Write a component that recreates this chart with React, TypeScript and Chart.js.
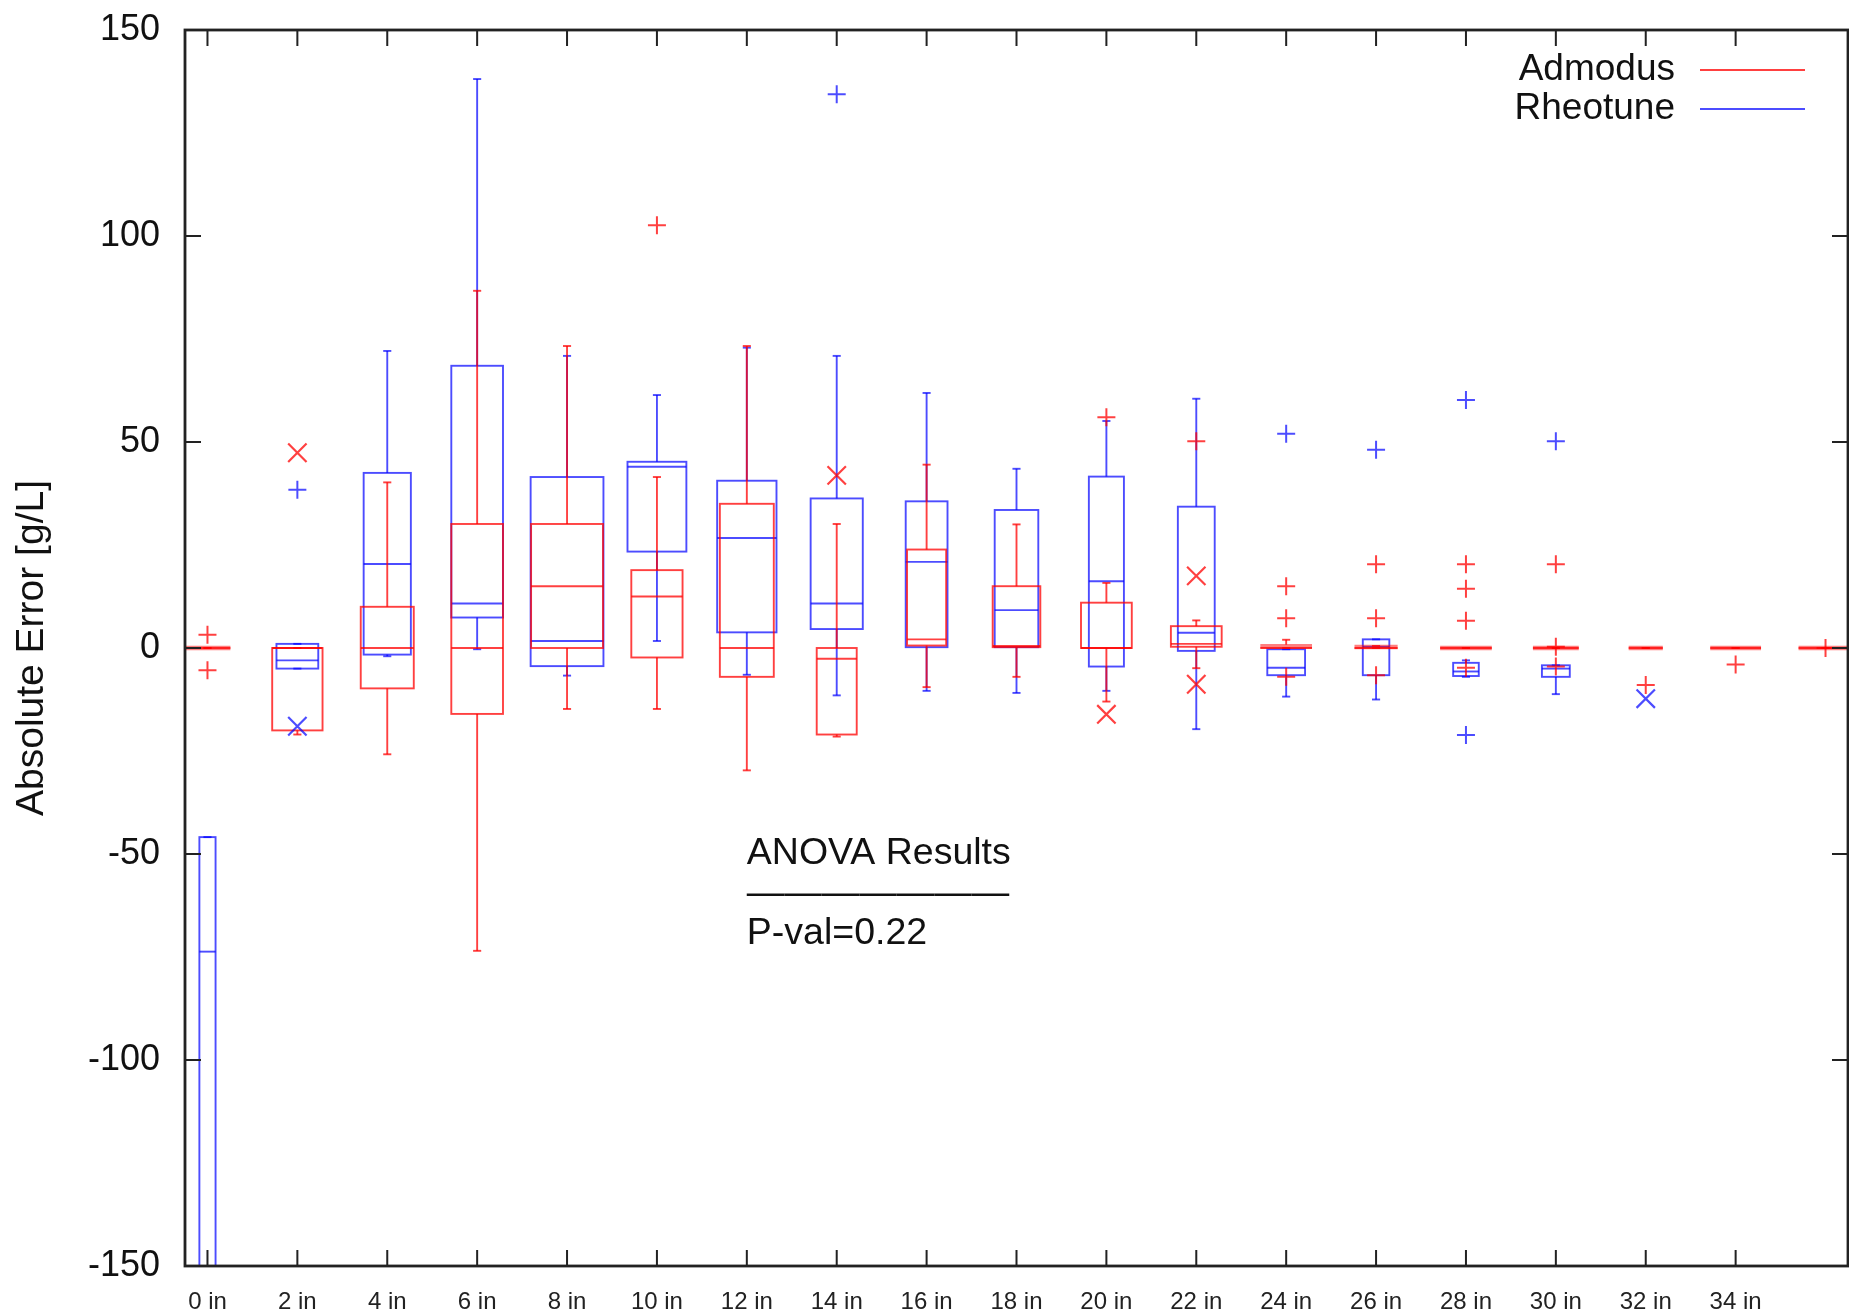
import React, { useEffect, useRef } from 'react';
import { Chart, registerables } from 'chart.js';

Chart.register(...registerables);

// ---------- data ----------
const categories = [0, 2, 4, 6, 8, 10, 12, 14, 16, 18, 20, 22, 24, 26, 28, 30, 32, 34, 36];
const tickValues = [0, 2, 4, 6, 8, 10, 12, 14, 16, 18, 20, 22, 24, 26, 28, 30, 32, 34];
const xTickLabels = ['0 in', '2 in', '4 in', '6 in', '8 in', '10 in', '12 in', '14 in', '16 in', '18 in', '20 in', '22 in', '24 in', '26 in', '28 in', '30 in', '32 in', '34 in'];
const yTickValues = [-150, -100, -50, 0, 50, 100, 150];

const seriesNames = ['Admodus', 'Rheotune'];

// Admodus (red)
const admodusMin = [0, -21, -25.8, -73.5, -14.8, -14.8, -29.7, -21.5, -9.5, -7.0, -13, -4.9, 0, 0, 0, 0, 0, 0, 0];
const admodusQ1 = [0, -20, -9.8, -16, 0, -2.3, -7.0, -21.0, 0.6, 0.2, 0, 0.3, 0, 0, 0, 0, 0, 0, 0];
const admodusMed = [0, 0, 0, 0, 15.0, 12.5, 0, -2.6, 2.1, 0.5, 0, 1.0, 0, 0, 0, 0, 0, 0, 0];
const admodusQ3 = [0, 0, 10.0, 30.1, 30.1, 18.9, 35.0, 0, 23.9, 15.0, 11.0, 5.3, 0.8, 0.5, 0, 0, 0, 0, 0];
const admodusMax = [0, 0, 40.2, 86.7, 73.3, 41.5, 73.3, 30.1, 44.5, 30.0, 15.8, 6.7, 2.0, 0.5, 0, 0, 0, 0, 0];
// relative box widths (x-axis units, varwidth)
const admodusWidth = [1.02, 1.12, 1.18, 1.15, 1.6, 1.14, 1.2, 0.89, 0.87, 1.06, 1.13, 1.13, 1.15, 0.96, 1.15, 1.02, 0.76, 1.13, 1.2];
const admodusPlus: number[][] = [
  [3.2, -5.4], [], [], [], [], [102.6], [], [], [], [], [56.0], [50.2],
  [15.0, 7.2, -7.0], [20.3, 7.2, -6.6], [20.3, 14.4, 6.6, -4.8], [20.3, 0.3, -4.5], [-9.0], [-4.0], [0],
];
const admodusCross: number[][] = [
  [], [47.4], [], [], [], [], [], [41.9], [], [], [-16.1], [17.5, -8.8], [], [], [], [], [], [], [],
];

// Rheotune (blue)
const rheotuneMin = [-200, -5, -2, -0.3, -6.7, 1.7, -6.5, -11.5, -10.4, -10.9, -10.4, -19.7, -11.8, -12.5, -7.0, -11.2, null, null, null];
const rheotuneQ1 = [-170, -5, -1.6, 7.4, -4.4, 23.4, 3.8, 4.6, 0.2, 0.2, -4.5, -0.7, -6.6, -6.6, -6.8, -7.0, null, null, null];
const rheotuneMed = [-73.7, -3.0, 20.4, 10.8, 1.7, 44.0, 26.7, 10.8, 20.9, 9.2, 16.2, 3.7, -4.8, 0.3, -5.7, -5.0, null, null, null];
const rheotuneQ3 = [-45.9, 1.0, 42.5, 68.5, 41.5, 45.2, 40.6, 36.3, 35.6, 33.5, 41.6, 34.3, -0.3, 2.1, -3.6, -4.2, null, null, null];
const rheotuneMax = [-45.9, 1.0, 72.1, 138.1, 70.9, 61.4, 72.9, 70.9, 61.9, 43.5, 55.1, 60.5, -0.3, 2.1, -3.0, -4.2, null, null, null];
const rheotuneWidth = [0.36, 0.93, 1.05, 1.15, 1.62, 1.31, 1.32, 1.16, 0.93, 0.97, 0.78, 0.82, 0.84, 0.59, 0.57, 0.62, 0, 0, 0];
const rheotunePlus: number[][] = [
  [], [38.4], [], [], [], [], [], [134.4], [], [], [], [], [52.0], [48.1], [60.2, -21.1], [50.2], [], [], [],
];
const rheotuneCross: number[][] = [
  [], [-19.0], [], [], [], [], [], [], [], [], [], [], [], [], [], [], [-12.3], [], [],
];

const annotationLines = ['ANOVA Results', '———————', 'P-val=0.22'];
const annotationAt = { x: 12, y: -50 };

// ---------- styles ----------
const FONT = "'Liberation Sans', Arial, Helvetica, sans-serif";
const RED = 'rgba(255,0,0,0.75)';
const BLUE = 'rgba(0,0,255,0.7)';
const RED_FLAT = 'rgba(255,0,0,0.5)';
const BLUE_FLAT = 'rgba(0,0,255,0.45)';
const CAP_W = 0.18;

const series = [
  { name: seriesNames[0], color: RED, flat: RED_FLAT, min: admodusMin, q1: admodusQ1, med: admodusMed, q3: admodusQ3, max: admodusMax, width: admodusWidth, plus: admodusPlus, cross: admodusCross },
  { name: seriesNames[1], color: BLUE, flat: BLUE_FLAT, min: rheotuneMin, q1: rheotuneQ1, med: rheotuneMed, q3: rheotuneQ3, max: rheotuneMax, width: rheotuneWidth, plus: rheotunePlus, cross: rheotuneCross },
];

const toPoints = (arr: number[][]) =>
  arr.flatMap((vals, i) => vals.map((v) => ({ x: categories[i], y: v })));

const boxPlugin = {
  id: 'boxes',
  beforeDatasetsDraw(chart: any) {
    const { ctx, chartArea, scales } = chart;
    const x = scales.x;
    const y = scales.y;
    ctx.save();
    ctx.beginPath();
    ctx.rect(chartArea.left, chartArea.top, chartArea.right - chartArea.left, chartArea.bottom - chartArea.top);
    ctx.clip();
    const line = (x1: number, y1: number, x2: number, y2: number) => {
      ctx.beginPath();
      ctx.moveTo(x1, y1);
      ctx.lineTo(x2, y2);
      ctx.stroke();
    };
    [series[1], series[0]].forEach((s) => {
      categories.forEach((c, i) => {
        const q1 = s.q1[i];
        if (q1 === null || q1 === undefined) return;
        const mn = s.min[i] as number;
        const md = s.med[i] as number;
        const q3 = s.q3[i] as number;
        const mx = s.max[i] as number;
        const w = s.width[i];
        const xc = x.getPixelForValue(c);
        const xl = x.getPixelForValue(c - w / 2);
        const xr = x.getPixelForValue(c + w / 2);
        const cl = x.getPixelForValue(c - CAP_W / 2);
        const cr = x.getPixelForValue(c + CAP_W / 2);
        const yq1 = y.getPixelForValue(q1);
        const yq3 = y.getPixelForValue(q3);
        const ymd = y.getPixelForValue(md);
        const ymn = y.getPixelForValue(mn);
        const ymx = y.getPixelForValue(mx);
        ctx.strokeStyle = s.color;
        ctx.lineWidth = 1.9;
        if (mx !== q3) { line(xc, yq3, xc, ymx); }
        line(cl, ymx, cr, ymx);
        if (mn !== q1) { line(xc, yq1, xc, ymn); }
        line(cl, ymn, cr, ymn);
        if (Math.abs(yq1 - yq3) < 4) {
          // collapsed box: heavier, lighter band like the original rendering
          ctx.strokeStyle = s.flat;
          ctx.lineWidth = 4.5;
          line(xl, (yq1 + yq3) / 2, xr, (yq1 + yq3) / 2);
          ctx.strokeStyle = s.color;
          ctx.lineWidth = 1.9;
          line(xl, ymd, xr, ymd);
        } else {
          ctx.strokeRect(xl, yq3, xr - xl, yq1 - yq3);
          line(xl, ymd, xr, ymd);
        }
      });
    });
    ctx.restore();
  },
  afterDatasetsDraw(chart: any) {
    const { ctx, chartArea, scales } = chart;
    const x = scales.x;
    const y = scales.y;
    const { left, right, top, bottom } = chartArea;
    ctx.save();
    ctx.strokeStyle = '#222';
    ctx.lineWidth = 2;
    const TL = 16;
    tickValues.forEach((v) => {
      const px = x.getPixelForValue(v);
      ctx.beginPath();
      ctx.moveTo(px, bottom); ctx.lineTo(px, bottom - TL);
      ctx.moveTo(px, top); ctx.lineTo(px, top + TL);
      ctx.stroke();
    });
    yTickValues.forEach((v) => {
      const py = y.getPixelForValue(v);
      ctx.beginPath();
      ctx.moveTo(left, py); ctx.lineTo(left + TL, py);
      ctx.moveTo(right, py); ctx.lineTo(right - TL, py);
      ctx.stroke();
    });
    ctx.lineWidth = 2.8;
    ctx.strokeRect(left, top, right - left, bottom - top);

    // annotation
    ctx.fillStyle = '#111';
    ctx.font = `37.5px ${FONT}`;
    ctx.textAlign = 'left';
    ctx.textBaseline = 'middle';
    const ax = x.getPixelForValue(annotationAt.x);
    const ay = y.getPixelForValue(annotationAt.y);
    annotationLines.forEach((t, k) => {
      ctx.fillText(t, ax, ay + k * 40);
    });

    // legend
    ctx.font = `37px ${FONT}`;
    ctx.textAlign = 'right';
    series.forEach((s, k) => {
      const ly = top + 40 + k * 39;
      ctx.fillStyle = '#111';
      ctx.fillText(s.name, right - 173, ly);
      ctx.strokeStyle = s.color;
      ctx.lineWidth = 1.9;
      ctx.beginPath();
      ctx.moveTo(right - 148, ly);
      ctx.lineTo(right - 43, ly);
      ctx.stroke();
    });
    ctx.restore();
  },
};

export default function App() {
  const ref = useRef<HTMLCanvasElement>(null);
  useEffect(() => {
    const datasets: any[] = [];
    series.forEach((s) => {
      datasets.push({
        label: s.name + ' +',
        data: toPoints(s.plus),
        pointStyle: 'cross',
        pointRadius: 9,
        pointBorderWidth: 2,
        borderColor: s.color,
        backgroundColor: s.color,
        showLine: false,
      });
      datasets.push({
        label: s.name + ' x',
        data: toPoints(s.cross),
        pointStyle: 'crossRot',
        pointRadius: 13,
        pointBorderWidth: 2.2,
        borderColor: s.color,
        backgroundColor: s.color,
        showLine: false,
      });
    });
    const chart = new Chart(ref.current as HTMLCanvasElement, {
      type: 'scatter',
      data: { datasets },
      plugins: [boxPlugin],
      options: {
        responsive: false,
        animation: false,
        devicePixelRatio: 1,
        layout: { autoPadding: false, padding: { top: 30, right: 1, left: 0, bottom: 0 } },
        plugins: { legend: { display: false }, tooltip: { enabled: false } },
        scales: {
          x: {
            type: 'linear',
            min: -0.5,
            max: 36.5,
            afterBuildTicks: (s: any) => { s.ticks = tickValues.map((v) => ({ value: v })); },
            afterFit: (s: any) => { s.height = 50; s.paddingLeft = 0; s.paddingRight = 0; },
            ticks: {
              autoSkip: false,
              maxRotation: 0,
              minRotation: 0,
              padding: 22,
              color: '#222',
              font: { family: FONT, size: 24 },
              callback: (_v: any, i: number) => xTickLabels[i],
            },
            grid: { display: false, drawTicks: false },
            border: { display: false },
          },
          y: {
            type: 'linear',
            min: -150,
            max: 150,
            afterBuildTicks: (s: any) => { s.ticks = yTickValues.map((v) => ({ value: v })); },
            afterFit: (s: any) => { s.width = 185; s.paddingTop = 0; s.paddingBottom = 0; },
            ticks: {
              padding: 25,
              color: '#111',
              font: { family: FONT, size: 36 },
            },
            grid: { display: false, drawTicks: false },
            border: { display: false },
            title: {
              display: true,
              text: 'Absolute Error [g/L]',
              color: '#111',
              font: { family: FONT, size: 39 },
              padding: { top: 9, bottom: 0 },
            },
          },
        },
      } as any,
    });
    return () => chart.destroy();
  }, []);
  return (
    <div style={{ position: 'fixed', left: 0, top: 0, width: 1849, height: 1316, background: '#fff' }}>
      <canvas ref={ref} width={1849} height={1316} style={{ display: 'block', width: 1849, height: 1316 }} />
    </div>
  );
}
